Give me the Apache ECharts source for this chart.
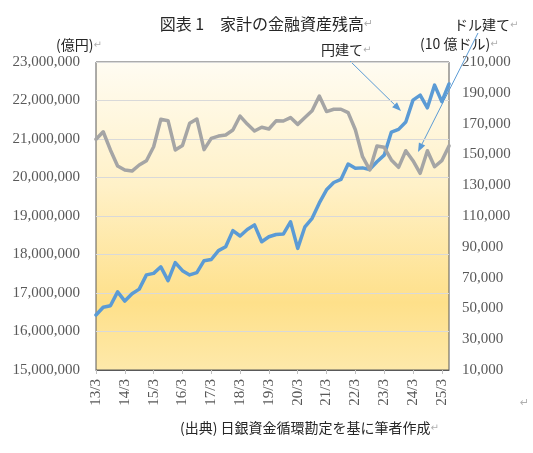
<!DOCTYPE html>
<html lang="ja">
<head>
<meta charset="UTF-8">
<title>家計の金融資産残高</title>
<script src="https://cdn.jsdelivr.net/npm/echarts@6/dist/echarts.min.js"></script>
<style>
  html, body { margin: 0; padding: 0; background: #fff; }
  #chart { width: 533px; height: 453px; }
</style>
</head>
<body>
<div id="chart"></div>
<script>
// 四半期（年/月）
const quarters = [
  '13/3', '13/6', '13/9', '13/12', '14/3', '14/6', '14/9', '14/12',
  '15/3', '15/6', '15/9', '15/12', '16/3', '16/6', '16/9', '16/12',
  '17/3', '17/6', '17/9', '17/12', '18/3', '18/6', '18/9', '18/12',
  '19/3', '19/6', '19/9', '19/12', '20/3', '20/6', '20/9', '20/12',
  '21/3', '21/6', '21/9', '21/12', '22/3', '22/6', '22/9', '22/12',
  '23/3', '23/6', '23/9', '23/12', '24/3', '24/6', '24/9', '24/12',
  '25/3', '25/6'
];
// 円建て（億円）
const yenValues = [
  16430000, 16630000, 16670000, 17030000, 16790000, 16980000, 17100000, 17470000,
  17510000, 17680000, 17320000, 17790000, 17580000, 17470000, 17530000, 17840000,
  17870000, 18100000, 18200000, 18620000, 18480000, 18650000, 18770000, 18330000,
  18460000, 18520000, 18530000, 18850000, 18160000, 18720000, 18940000, 19340000,
  19680000, 19870000, 19950000, 20350000, 20240000, 20250000, 20210000, 20410000,
  20580000, 21180000, 21250000, 21440000, 22010000, 22140000, 21810000, 22400000,
  21970000, 22430000
];
// ドル建て（10億ドル）
const dollarValues = [
  159800, 164700, 152900, 142500, 139900, 139200, 143100, 145900,
  155000, 172800, 171900, 152900, 155800, 170200, 173000, 153100,
  160400, 161900, 162600, 165800, 174900, 169700, 165200, 167600,
  166500, 171800, 171700, 173900, 169500, 173900, 178400, 187900,
  177800, 179300, 179300, 177100, 166000, 148500, 139900, 155500,
  154600, 146400, 141600, 152400, 145900, 137700, 152400, 142000,
  145900, 155500
];
// 軸の範囲
const leftRange = [15000000, 23000000];
const rightRange = [10000, 210000];

const serif = "'Liberation Serif', 'DejaVu Serif', serif";
const jp = "'Noto Sans CJK JP', sans-serif";
const markColor = '#b0b0b0';

// 矢印（線＋三角）
function arrow(x1, y1, x2, y2) {
  const a = Math.atan2(y2 - y1, x2 - x1), len = 9, w = 3.5;
  const bx = x2 - len * Math.cos(a), by = y2 - len * Math.sin(a);
  return [
    { type: 'line', shape: { x1: x1, y1: y1, x2: bx, y2: by },
      style: { stroke: '#5b9bd5', lineWidth: 1 } },
    { type: 'polygon',
      shape: { points: [[x2, y2],
        [bx - w * Math.sin(a), by + w * Math.cos(a)],
        [bx + w * Math.sin(a), by - w * Math.cos(a)]] },
      style: { fill: '#5b9bd5' } }
  ];
}

function label(x, y, text, size) {
  return {
    type: 'text', left: x, top: y,
    style: {
      text: text + '{m|↵}', fill: '#262626',
      font: (size || 13) + 'px ' + jp,
      rich: { m: { fill: markColor, fontSize: 10, fontFamily: 'DejaVu Sans' } }
    }
  };
}

const chart = echarts.init(document.getElementById('chart'));
chart.setOption({
  animation: false,
  title: {
    text: '図表 1　家計の金融資産残高{m|↵}',
    left: 'center', top: 11,
    textStyle: {
      fontFamily: jp, fontSize: 16, fontWeight: 'normal', color: '#262626',
      rich: { m: { color: markColor, fontSize: 11, fontFamily: 'DejaVu Sans' } }
    }
  },
  grid: {
    left: 96, right: 84, top: 62, bottom: 83,
    show: true, borderColor: '#595959', borderWidth: 1,
    backgroundColor: new echarts.graphic.LinearGradient(0, 0, 0, 1, [
      { offset: 0, color: '#fffcf2' },
      { offset: 0.4, color: '#fff1c8' },
      { offset: 0.78, color: '#fee08a' },
      { offset: 1, color: '#fee9aa' }
    ])
  },
  xAxis: {
    type: 'category', data: quarters, boundaryGap: false,
    axisLine: { lineStyle: { color: '#595959' } },
    axisTick: { interval: 3, length: 4, lineStyle: { color: '#bfbfbf' } },
    axisLabel: {
      interval: 3, rotate: 90, margin: 9,
      fontFamily: serif, fontSize: 15, color: '#595959'
    }
  },
  yAxis: [{
    type: 'value', min: leftRange[0], max: leftRange[1], interval: 1000000,
    axisLine: { show: false }, axisTick: { show: false },
    axisLabel: {
      margin: 16, fontFamily: serif, fontSize: 15, color: '#595959',
      formatter: v => v.toLocaleString('en-US')
    },
    splitLine: { lineStyle: { color: '#d9d9d9' } }
  }, {
    type: 'value', min: rightRange[0], max: rightRange[1], interval: 10000,
    axisLine: { show: false }, axisTick: { show: false },
    axisLabel: {
      margin: 13, fontFamily: serif, fontSize: 15, color: '#595959',
      formatter: v => ((v - rightRange[0]) % 20000 === 0 ? v.toLocaleString('en-US') : '')
    },
    splitLine: { show: false }
  }],
  series: [{
    name: '円建て', type: 'line', yAxisIndex: 0, data: yenValues,
    showSymbol: false, lineStyle: { color: '#5b9bd5', width: 3.5, cap: 'round', join: 'round' }
  }, {
    name: 'ドル建て', type: 'line', yAxisIndex: 1, data: dollarValues,
    showSymbol: false, lineStyle: { color: '#a5a5a5', width: 3.5, cap: 'round', join: 'round' }
  }],
  graphic: [
    label(56, 38, '(億円)', 14),
    label(420, 37, '(10 億ドル)', 14),
    label(321, 43, '円建て', 14),
    label(454, 18, 'ドル建て', 14),
    ...arrow(350, 61, 401, 111),
    ...arrow(478, 33, 418, 152),
    label(180, 421, '(出典) 日銀資金循環勘定を基に筆者作成', 14),
    { type: 'text', left: 520, top: 398,
      style: { text: '↵', fill: markColor, font: '11px DejaVu Sans' } }
  ]
});
</script>
</body>
</html>
